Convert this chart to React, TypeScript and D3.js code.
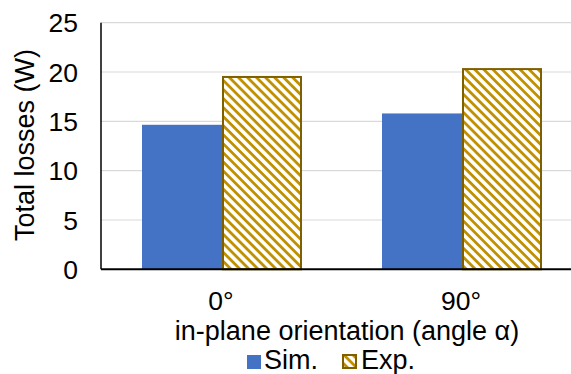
import React from "react";
import * as d3 from "d3";

const categories = ["0°", "90°"];
const series = ["Sim.", "Exp."];
const simValues = [14.65, 15.8];
const expValues = [19.6, 20.4];
const yTicks = [0, 5, 10, 15, 20, 25];

const W = 571, H = 374;
const left = 101, right = 581, top = 22.7, bottom = 269.3;

export default function App() {
  const x = d3.scaleBand<string>().domain(categories).range([left, right]).paddingInner(0).paddingOuter(0);
  const y = d3.scaleLinear().domain([0, 25]).range([bottom, top]);
  const inner = d3.scaleBand<string>().domain(series).range([41, x.bandwidth() - 39]).paddingInner(0).paddingOuter(0);
  const font = "'Liberation Sans', Arial, sans-serif";
  const fs = 27;
  const tfs = 26.5;
  return (
    <svg width={W} height={H} style={{ position: "absolute", left: 0, top: 0 }}>
      <defs>
        <pattern id="hatch" patternUnits="userSpaceOnUse" width="6.4" height="6.4" patternTransform="rotate(45)">
          <rect width="6.4" height="6.4" fill="#fff" />
          <rect x="0" y="0" width="6.4" height="2.8" fill="#BF9000" />
        </pattern>
      </defs>
      <rect width={W} height={H} fill="#fff" />
      {yTicks.map(t => (
        <g key={t}>
          {t > 0 && <line x1={left} x2={right} y1={y(t)} y2={y(t)} stroke="#d9d9d9" strokeWidth={1.2} />}
          <text x={78} y={y(t)} dy="0.36em" textAnchor="end" fontFamily={font} fontSize={tfs} fill="#000">{t}</text>
        </g>
      ))}
      {categories.map((c, i) => {
        const x0 = x(c)!;
        const bw = inner.bandwidth();
        const sx = x0 + inner("Sim.")!;
        const ex = x0 + inner("Exp.")!;
        return (
          <g key={c}>
            <rect x={sx} y={y(simValues[i])} width={bw} height={y(0) - y(simValues[i])} fill="#4472C4" />
            <rect x={ex + 1} y={y(expValues[i]) + 1} width={bw - 2} height={y(0) - y(expValues[i]) - 1} fill="url(#hatch)" stroke="#7F6000" strokeWidth={2} />
            <text x={x0 + x.bandwidth() / 2} y={310} textAnchor="middle" fontFamily={font} fontSize={tfs} fill="#000">{c}</text>
          </g>
        );
      })}
      <line x1={left} x2={left} y1={top} y2={bottom} stroke="#000" strokeWidth={1.5} />
      <line x1={left} x2={right} y1={bottom} y2={bottom} stroke="#000" strokeWidth={2} />
      <text transform={`translate(34,145) rotate(-90)`} textAnchor="middle" fontFamily={font} fontSize={fs} fill="#000">Total losses (W)</text>
      <text x={347} y={340} textAnchor="middle" fontFamily={font} fontSize={fs} fill="#000">in-plane orientation (angle α)</text>
      <g>
        <rect x={247} y={355} width={14} height={14} fill="#4472C4" />
        <text x={264} y={369} fontFamily={font} fontSize={fs} fill="#000">{series[0]}</text>
        <rect x={343} y={355} width={13} height={13} fill="url(#hatch)" stroke="#7F6000" strokeWidth={2} />
        <text x={361} y={369} fontFamily={font} fontSize={fs} fill="#000">{series[1]}</text>
      </g>
    </svg>
  );
}
